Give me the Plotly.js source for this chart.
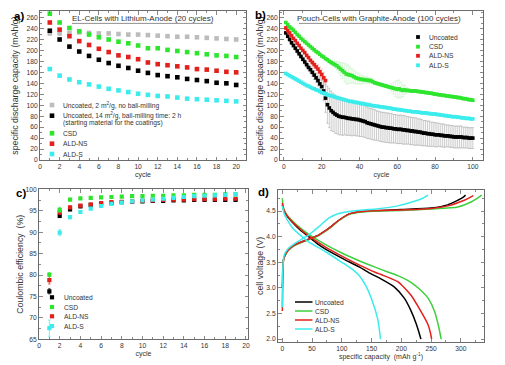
<!DOCTYPE html>
<html><head><meta charset="utf-8">
<script src="https://cdn.plot.ly/plotly-3.0.1.min.js"></script>
<style>html,body{margin:0;padding:0;background:#fff;}#chart{width:505px;height:365px;}</style>
</head><body><div id="chart"></div>
<script>
// ---------- Panel a: EL-Cells with Lithium-Anode ----------
const cyclesA = [1,2,3,4,5,6,7,8,9,10,11,12,13,14,15,16,17,18,19,20];
const aGray  = [231,231,232,233,232,231,231,230,229,229,228,227,226,225,225,224,223,222,221,220];
const aBlack = [236,220,207,198,190,183,177,172,168,163,159,155,153,151,148,146,144,141,140,137];
const aGreen = [267,251,241,235,229,224,220,216,213,209,204,204,201,199,197,195,193,191,190,188];
const aRed   = [251,238,226,217,210,203,197,191,188,184,178,175,173,171,169,166,165,163,161,160];
const aCyan  = [166,154,147,142,138,134,130,127,124,121,119,117,116,114,112,111,110,109,108,107];
const aLegend = ['Uncoated, 2 m<sup>2</sup>/g, no ball-milling','Uncoated, 14 m<sup>2</sup>/g, ball-milling time: 2 h','(starting material for the coatings)','CSD','ALD-NS','ALD-S'];

// ---------- Panel b: Pouch-Cells with Graphite-Anode ----------
const bBlack = [232,226,220,214,209,204,199,194,189,184,179,174,169,165,160,155,150,145,139,134,
  126,113,101,95,90,87,84,82,80,79,78,78,77,76,76,75,75,74,74,73,
  72,71,70,68,67,66,65,64,63,62,61,60,60,59,59,58,58,57,57,56,
  56,56,55,55,54,54,53,53,52,52,51,51,50,49,49,48,48,47,47,46,
  46,46,45,45,44,44,44,43,43,42,42,42,42,42,41,41,41,40,40,40];
const bBlackErr = [3,3,3,3,3,3,4,4,4,4,5,5,6,6,7,8,9,10,11,12,
  18,26,34,36,36,35,35,34,34,33,33,32,32,31,31,31,30,30,30,30,
  29,29,29,29,28,28,28,28,27,27,27,27,27,27,27,27,27,26,26,26,
  26,26,26,26,25,25,25,25,25,25,24,24,24,23,23,23,23,22,22,22,
  22,21,21,21,21,20,20,20,20,20,20,20,20,20,19,19,19,19,19,19];
const bGreen = [251,247,243,240,237,233,229,226,222,219,216,213,210,207,204,201,198,196,193,190,
  188,185,183,180,178,176,174,172,169,166,163,160,157,156,155,154,152,150,149,148,
  147,147,146,146,145,145,143,141,140,139,138,137,136,135,134,133,132,131,130,129,
  130,128,127,128,127,127,126,126,126,126,125,125,124,124,123,123,122,122,121,120,
  120,119,119,118,118,117,117,116,116,115,115,114,114,113,112,112,111,110,110,109];
const bGreenErr = [2,2,2,2,2,2,2,2,2,2,2,2,2,2,2,2,2,2,2,2,
  2,2,2,2,4,5,6,8,10,12,14,17,18,17,15,13,12,11,10,9,
  8,7,6,6,5,5,3,3,3,3,3,3,3,3,3,3,7,11,14,16,
  16,14,11,8,5,2,2,2,2,2,2,2,2,2,2,2,2,2,2,2,
  2,2,2,2,2,2,2,2,2,2,2,2,2,2,2,2,2,2,2,2];
const bRed = [241,236,232,227,222,218,213,209,204,200,196,191,187,182,178,174,170,166,161,156,150,145];
const bRedErr = [2,2,2,2,2,2,2,2,2,2,2,2,2,2,4,5,6,8,9,10,10,8];
const bCyan = [158,156,154,152,150,148,146,144,142,140,138,136,135,133,131,130,128,127,125,123,
  122,121,119,118,117,116,115,114,113,112,111,110,109,108,107,107,106,105,105,104,
  103,103,102,101,101,100,99,99,98,98,97,97,96,96,95,95,94,93,93,92,
  92,91,91,90,90,89,89,88,88,88,87,87,86,86,86,85,85,84,84,84,
  83,83,82,82,81,81,80,80,79,79,79,78,78,77,77,76,76,76,75,75];

// ---------- Panel c: Coulombic efficiency ----------
const cyclesC = [1,2,3,4,5,6,7,8,9,10,11,12,13,14,15,16,17,18,19];
const cBlack = [76.2,93.8,95.3,96.0,96.3,96.6,96.8,97.0,97.1,97.2,97.3,97.3,97.4,97.4,97.5,97.5,97.5,97.5,97.5];
const cGreen = [80.1,95.2,97.6,97.9,98.0,98.1,98.2,98.3,98.4,98.4,98.5,98.5,98.6,98.6,98.7,98.7,98.7,98.8,98.8];
const cRed   = [78.8,94.6,95.8,96.2,96.5,96.8,97.0,97.1,97.2,97.3,97.4,97.5,97.6,97.6,97.7,97.7,97.7,97.8,97.8];
const cCyan  = [67.6,89.9,93.5,94.7,95.5,96.1,96.6,96.9,97.2,97.4,97.6,97.8,98.0,98.2,98.4,98.5,98.6,98.7,98.8];
const cBlackErr = [0.6,0.4,0.3,0.2,0.2,0.2,0.2,0.2,0.2,0.2,0.2,0.2,0.2,0.2,0.2,0.2,0.2,0.2,0.2];
const cGreenErr = [0.4,0.6,0.3,0.2,0.2,0.2,0.2,0.2,0.2,0.2,0.2,0.2,0.2,0.2,0.2,0.2,0.2,0.2,0.2];
const cRedErr   = [0.9,0.5,0.3,0.2,0.2,0.2,0.2,0.2,0.2,0.2,0.2,0.2,0.2,0.2,0.2,0.2,0.2,0.2,0.2];
const cCyanErr  = [1.9,0.7,0.4,0.3,0.3,0.2,0.2,0.2,0.2,0.2,0.2,0.2,0.2,0.2,0.2,0.2,0.2,0.2,0.2];

// ---------- Panel d: voltage profiles ----------
const dBlackChgCap = [0,0.5,1,2,4.5,10,21,44,61,78,95,112,134,166,200,250,278,295,303,308];
const dBlackChgV   = [3.0,3.2,3.38,3.55,3.64,3.74,3.84,3.95,4.03,4.16,4.32,4.44,4.49,4.51,4.53,4.56,4.62,4.71,4.76,4.81];
const dBlackDisCap = [0,1,3,8,16,30,44,58,72,100,129,150,165,188,205,216,225,230,233];
const dBlackDisV   = [4.62,4.57,4.5,4.4,4.29,4.13,4.0,3.87,3.76,3.58,3.41,3.27,3.18,3.02,2.8,2.56,2.3,2.12,2.0];
const dGreenChgCap = [0,1,2,4.5,10,21,44,61,78,95,112,134,166,200,250,295,318,328,335];
const dGreenChgV   = [3.2,3.45,3.55,3.63,3.73,3.83,3.94,4.02,4.15,4.31,4.43,4.48,4.5,4.51,4.54,4.58,4.68,4.75,4.81];
const dGreenDisCap = [0,1,3,8,16,30,44,72,100,129,157,175,194,210,222,235,245,256,262,265,267];
const dGreenDisV   = [4.75,4.62,4.52,4.42,4.32,4.17,4.05,3.85,3.68,3.53,3.4,3.32,3.24,3.15,3.06,2.93,2.8,2.54,2.28,2.12,2.0];
const dRedChgCap = [0,0.5,1,2,4.5,10,21,44,61,78,95,112,134,166,200,250,278,306,315,321];
const dRedChgV   = [2.55,3.0,3.35,3.55,3.64,3.74,3.84,3.95,4.03,4.16,4.32,4.44,4.49,4.51,4.52,4.55,4.6,4.71,4.76,4.8];
const dRedDisCap = [0,1,3,8,16,30,44,72,100,129,157,166,194,216,233,245,249,251];
const dRedDisV   = [4.66,4.59,4.51,4.41,4.3,4.15,4.02,3.8,3.62,3.45,3.3,3.26,3.12,2.86,2.54,2.28,2.12,2.0];
const dCyanChgCap = [0,0.5,1,2,4.5,10,21,44,61,78,95,118,157,194,222,236,245];
const dCyanChgV   = [2.62,3.1,3.4,3.58,3.68,3.77,3.87,4.03,4.19,4.36,4.45,4.5,4.54,4.6,4.69,4.75,4.81];
const dCyanDisCap = [0,1,3,8,16,30,44,72,100,118,129,140,151,160,163,165];
const dCyanDisV   = [4.6,4.55,4.45,4.33,4.19,4.03,3.9,3.71,3.5,3.36,3.24,3.05,2.75,2.41,2.2,2.0];

const seriesNames = ['Uncoated','CSD','ALD-NS','ALD-S'];
const titleA = 'EL-Cells with Lithium-Anode (20 cycles)';
const titleB = 'Pouch-Cells with Graphite-Anode (100 cycles)';

// ---------- styling ----------
const W = 505, H = 365;
const BLACK = '#000000', GREEN = '#2ee52e', RED = '#e3201c', CYAN = '#3cecec', GRAY = '#bcbcbc';
const DGREEN = '#3fcf3f';
const REG = '"Liberation Sans",Arial,sans-serif';
const fx = p => p / W;
const fy = p => 1 - p / H;
const idx = arr => arr.map((_, i) => i + 1);

function sq(color, size) { return {symbol: 'square', size: size, color: color, line: {width: 0}}; }
function err(arr, color, th) { return {type: 'data', array: arr, color: color, thickness: th || 0.6, width: 1.2}; }

const traces = [];
// a
[[aGray, GRAY],[aBlack, BLACK],[aGreen, GREEN],[aRed, RED],[aCyan, CYAN]].forEach(([v, c]) => {
  traces.push({type: 'scatter', mode: 'markers', x: cyclesA, y: v, xaxis: 'x', yaxis: 'y', marker: sq(c, 4.6), showlegend: false, hoverinfo: 'skip'});
});
// b
traces.push({type: 'scatter', mode: 'markers', x: idx(bBlack), y: bBlack, xaxis: 'x2', yaxis: 'y2', marker: sq(BLACK, 3.6), error_y: err(bBlackErr, '#a3a3a3', 0.55), showlegend: false});
traces.push({type: 'scatter', mode: 'markers', x: idx(bGreen), y: bGreen, xaxis: 'x2', yaxis: 'y2', marker: sq(GREEN, 3.6), error_y: err(bGreenErr, '#b8efb8', 0.5), showlegend: false});
traces.push({type: 'scatter', mode: 'markers', x: idx(bRed), y: bRed, xaxis: 'x2', yaxis: 'y2', marker: sq(RED, 3.6), error_y: err(bRedErr, '#eb9a9a', 0.5), showlegend: false});
traces.push({type: 'scatter', mode: 'markers', x: idx(bCyan), y: bCyan, xaxis: 'x2', yaxis: 'y2', marker: sq(CYAN, 3.6), error_y: {type: 'constant', value: 2, color: '#a8f4f4', thickness: 0.5, width: 1}, showlegend: false});
// c
[[cBlack, cBlackErr, BLACK],[cRed, cRedErr, RED],[cGreen, cGreenErr, GREEN],[cCyan, cCyanErr, CYAN]].forEach(([v, e, c]) => {
  traces.push({type: 'scatter', mode: 'markers', x: cyclesC, y: v, xaxis: 'x3', yaxis: 'y3', marker: sq(c, 4.2), error_y: err(e, c, 0.7), showlegend: false});
});
// d
[[dBlackChgCap, dBlackChgV, dBlackDisCap, dBlackDisV, BLACK],
 [dGreenChgCap, dGreenChgV, dGreenDisCap, dGreenDisV, DGREEN],
 [dRedChgCap, dRedChgV, dRedDisCap, dRedDisV, RED],
 [dCyanChgCap, dCyanChgV, dCyanDisCap, dCyanDisV, CYAN]].forEach(([cx, cv, dx, dv, c]) => {
  traces.push({type: 'scatter', mode: 'lines', x: cx.concat([null], dx), y: cv.concat([null], dv), xaxis: 'x4', yaxis: 'y4', line: {color: c, width: 1.5, shape: 'spline', smoothing: 0.6}, connectgaps: false, showlegend: false});
});

const tickFont = {family: REG, size: 6.7, color: '#333'};
function minor(d) { return {ticks: 'inside', ticklen: 2, tickcolor: '#6b6b6b', tickwidth: 0.8, dtick: d}; }
function axis(o) {
  return Object.assign({
    showgrid: false, zeroline: false, showline: true, linecolor: '#6b6b6b', linewidth: 1, mirror: 'allticks',
    ticks: 'inside', ticklen: 3.5, tickcolor: '#6b6b6b', tickwidth: 0.8, tickfont: tickFont,
    fixedrange: true, automargin: false
  }, o);
}
function ytitle(t, so) { return {text: t, font: {family: REG, size: 8.8, color: '#333'}, standoff: so}; }
function xtitle(t, so) { return {text: t, font: {family: REG, size: 7, color: '#333'}, standoff: so}; }

const annotations = [];
const shapes = [];
function ann(x, y, text, font, xanchor) {
  annotations.push({xref: 'paper', yref: 'paper', x: fx(x), y: fy(y), text: text, showarrow: false, xanchor: xanchor || 'left', yanchor: 'middle', font: font, borderpad: 0});
}
function hline(x0, x1, y, c, w) {
  shapes.push({type: 'line', xref: 'paper', yref: 'paper', x0: fx(x0), x1: fx(x1), y0: fy(y), y1: fy(y), line: {color: c, width: w}});
}
// panel labels
const lblFont = {family: REG, size: 11.5, color: '#000'};
ann(19, 16, '<b>a)</b>', lblFont, 'center');
ann(260, 15, '<b>b)</b>', lblFont, 'center');
ann(21, 193, '<b>c)</b>', lblFont, 'center');
ann(263, 192, '<b>d)</b>', lblFont, 'center');
// panel titles (underlined)
const ttlFont = {family: REG, size: 8, color: '#333'};
ann(142.5, 18, titleA, ttlFont, 'center');
ann(379, 18, titleB, ttlFont, 'center');
hline(72, 213, 23.4, '#444', 0.6);
hline(299, 459, 23.4, '#444', 0.6);

// legends
const legFont = {family: REG, size: 6.7, color: '#333'};
function keySquare(x, y, c, s) {
  shapes.push({type: 'rect', xref: 'paper', yref: 'paper', x0: fx(x - s / 2), x1: fx(x + s / 2), y0: fy(y + s / 2), y1: fy(y - s / 2), fillcolor: c, line: {width: 0}});
}
// a
const aLegY = [105, 115.7, 122.8, 133.3, 143.7, 154];
const aLegC = [GRAY, BLACK, null, GREEN, RED, CYAN];
aLegend.forEach((t, i) => { if (aLegC[i]) keySquare(52, aLegY[i], aLegC[i], 4.6); ann(61.5, aLegY[i], t, legFont); });
// b
const bLegY = [37, 46.7, 55.8, 65.3];
const bLegC = [BLACK, GREEN, RED, CYAN];
seriesNames.forEach((t, i) => { keySquare(418, bLegY[i], bLegC[i], 3.8); ann(427.5, bLegY[i], t, legFont); });
// c
const cLegY = [297.3, 307, 316.3, 326];
seriesNames.forEach((t, i) => { keySquare(52, cLegY[i], bLegC[i], 4.2); ann(62.5, cLegY[i], t, legFont); });
// d
const dLegY = [302, 311, 320, 329];
const dLegC = [BLACK, DGREEN, RED, CYAN];
seriesNames.forEach((t, i) => { hline(295, 312.5, dLegY[i], dLegC[i], 1.5); ann(313.5, dLegY[i], t, legFont); });

const layout = {
  width: W, height: H, margin: {l: 0, r: 0, t: 0, b: 0}, paper_bgcolor: '#fff', plot_bgcolor: '#fff',
  showlegend: false, font: {family: REG, size: 7, color: '#333'},
  xaxis: axis({domain: [fx(40), fx(246)], range: [0, 21], tick0: 0, dtick: 2, minor: minor(1), anchor: 'y', title: xtitle('cycle', 3)}),
  yaxis: axis({domain: [fy(160), fy(11)], range: [0, 272], tick0: 0, dtick: 20, minor: minor(10), anchor: 'x', title: ytitle('specific discharge capacity (mAh/g)', 6)}),
  xaxis2: axis({domain: [fx(280), fx(483)], range: [-2.1, 105.4], tick0: 0, dtick: 20, minor: minor(10), anchor: 'y2', title: xtitle('cycle', 3)}),
  yaxis2: axis({domain: [fy(160), fy(11)], range: [0, 272], tick0: 0, dtick: 20, minor: minor(10), anchor: 'x2', title: ytitle('specific discharge capacity (mAh/g)', 1)}),
  xaxis3: axis({domain: [fx(39), fx(248)], range: [0, 20.2], tick0: 0, dtick: 2, minor: minor(1), anchor: 'y3', title: xtitle('cycle', 2)}),
  yaxis3: axis({domain: [fy(339.3), fy(189.3)], range: [65, 100], tick0: 65, dtick: 5, minor: minor(2.5), anchor: 'x3', title: ytitle('Coulombic efficiency  (%)', 0)}),
  xaxis4: axis({domain: [fx(278), fx(484)], range: [-7.3, 339], tick0: 0, dtick: 50, minor: minor(25), anchor: 'y4', title: xtitle('specific capacity  (mAh g<sup>-1</sup>)', 2)}),
  yaxis4: axis({domain: [fy(341.7), fy(190)], range: [1.95, 4.91], tick0: 2, dtick: 0.5, tickformat: '.1f', minor: minor(0.25), anchor: 'x4', title: ytitle('cell voltage (V)', 1)}),
  annotations: annotations, shapes: shapes
};
Plotly.newPlot('chart', traces, layout, {staticPlot: true, displayModeBar: false});
</script></body></html>
